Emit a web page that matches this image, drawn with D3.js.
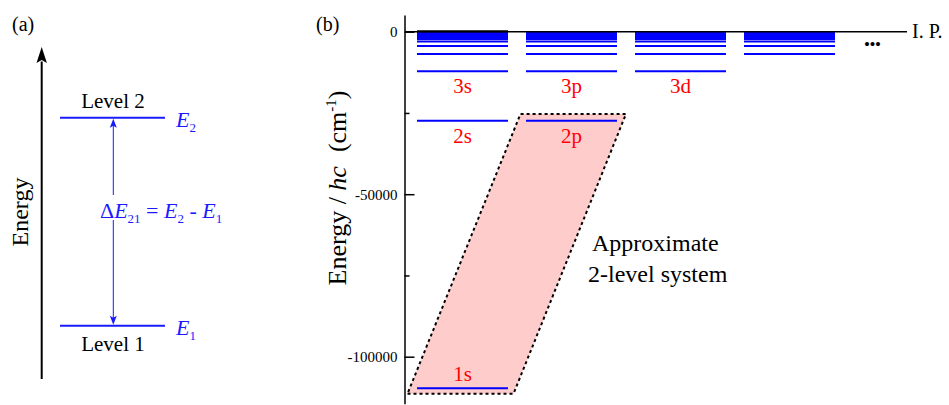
<!doctype html>
<html>
  <head>
    <meta charset="utf-8">
    <script src="https://cdn.jsdelivr.net/npm/d3@7"></script>
    <style>
      body, html {
        margin: 0;
        background: white;
      }
      svg {
        display: block;
      }
      svg text {
        font-family: "Liberation Serif", "DejaVu Serif", serif;
      }
      line.level {
        stroke: #0000ff;
        stroke-width: 2px;
      }
      text.state {
        fill: #ff0000;
        font-size: 21px;
        text-anchor: middle;
      }
      .axis text {
        font-size: 15px;
        fill: black;
      }
      .axis path, .axis line {
        stroke: black;
        stroke-width: 1.5px;
      }
    </style>
  </head>
  <body>
    <svg width="949" height="405"></svg>
    <script>

      // panel (b): hydrogen term energies, cm^-1, principal quantum number n = 1..20
      var levelN = [1, 2, 3, 4, 5, 6, 7, 8, 9, 10, 11, 12, 13, 14, 15, 16, 17, 18, 19, 20];
      var levelEnergy = [-109678, -27420, -12186, -6855, -4387, -3047, -2238, -1714, -1354, -1097,
        -906, -762, -649, -560, -487, -428, -380, -339, -304, -274];
      var columns = ["s", "p", "d", "f"];
      var columnStartN = [1, 2, 3, 4];
      var stateLabels = ["1s", "2s", "3s", "2p", "3p", "3d"];
      var majorTicks = [0, -50000, -100000];
      var minorTicks = [-25000, -75000];
      var boxEnergy = [-25300, -111400];

      // panel (a): schematic two-level system
      var levelsA = ["1", "2"];
      var levelNamesA = ["Level 1", "Level 2"];

      var svg = d3.select("svg")
        .attr("font-family", "Liberation Serif, DejaVu Serif, serif");

      // ---------- panel (a) ----------
      var yA = d3.scaleLinear().domain([1, 2]).range([325.7, 117.7]);
      var a = svg.append("g");

      a.append("text").attr("x", 12).attr("y", 31).style("font-size", "20px").text("(a)");

      a.append("line")
        .attr("x1", 41.7).attr("x2", 41.7)
        .attr("y1", yA(0.744)).attr("y2", yA(2.27))
        .attr("stroke", "black").attr("stroke-width", 2);
      a.append("path")
        .attr("d", "M41.7," + yA(2.34) + " L36.5," + (yA(2.34) + 16) + " L41.7," + (yA(2.34) + 13) + " L46.9," + (yA(2.34) + 16) + "Z")
        .attr("fill", "black");

      a.append("text")
        .attr("transform", "translate(28,212) rotate(-90)")
        .attr("text-anchor", "middle")
        .style("font-size", "24px")
        .text("Energy");

      a.selectAll("line.levelA").data(levelsA).join("line")
        .attr("class", "levelA")
        .attr("x1", 60).attr("x2", 165)
        .attr("y1", (d, i) => yA(i + 1)).attr("y2", (d, i) => yA(i + 1))
        .attr("stroke", "#1a1aff").attr("stroke-width", 2);

      a.selectAll("text.nameA").data(levelNamesA).join("text")
        .attr("class", "nameA")
        .attr("x", 113).attr("text-anchor", "middle")
        .attr("y", (d, i) => i == 0 ? yA(1) + 25 : yA(2) - 10)
        .style("font-size", "21px")
        .text(d => d);

      var eLab = a.selectAll("text.eA").data(levelsA).join("text")
        .attr("class", "eA")
        .attr("x", 176)
        .attr("y", (d, i) => yA(i + 1) + 9)
        .attr("fill", "#1a1aff")
        .style("font-size", "22px");
      eLab.append("tspan").style("font-style", "italic").text("E");
      eLab.append("tspan").attr("dy", 5).style("font-size", "13px").text(d => d);

      // transition arrow with a gap for the formula
      var ax = 113.3;
      a.append("line").attr("x1", ax).attr("x2", ax).attr("y1", yA(2) + 6).attr("y2", 195)
        .attr("stroke", "#1a1aff").attr("stroke-width", 1);
      a.append("line").attr("x1", ax).attr("x2", ax).attr("y1", 220).attr("y2", yA(1) - 6)
        .attr("stroke", "#1a1aff").attr("stroke-width", 1);
      a.append("path")
        .attr("d", "M" + ax + "," + (yA(2) + 1) + " l-3.5,9 l3.5,-2 l3.5,2Z")
        .attr("fill", "#1a1aff");
      a.append("path")
        .attr("d", "M" + ax + "," + (yA(1) - 1) + " l-3.5,-9 l3.5,2 l3.5,-2Z")
        .attr("fill", "#1a1aff");

      var f = a.append("text").attr("x", 100).attr("y", 218)
        .attr("fill", "#1a1aff").style("font-size", "22px");
      f.append("tspan").text("\u0394");
      f.append("tspan").style("font-style", "italic").text("E");
      f.append("tspan").attr("dy", 5).style("font-size", "13px").text("21");
      f.append("tspan").attr("dy", -5).text(" = ");
      f.append("tspan").style("font-style", "italic").text("E");
      f.append("tspan").attr("dy", 5).style("font-size", "13px").text("2");
      f.append("tspan").attr("dy", -5).text(" - ");
      f.append("tspan").style("font-style", "italic").text("E");
      f.append("tspan").attr("dy", 5).style("font-size", "13px").text("1");

      // ---------- panel (b) ----------
      var y = d3.scaleLinear().domain([0, -100000]).range([31.7, 356.7]);
      var x = d3.scaleLinear().domain([0, 4]).range([417, 853]);
      var colW = 91;

      var b = svg.append("g");
      b.append("text").attr("x", 316).attr("y", 31).style("font-size", "20px").text("(b)");

      // shaded 2-level region spanning 1s and 2p
      var box = [
        [x(0) - 9.5, y(boxEnergy[1])],
        [x(0) + colW + 5.5, y(boxEnergy[1])],
        [x(1) + colW + 9, y(boxEnergy[0])],
        [x(1) - 5.5, y(boxEnergy[0])]
      ];
      b.append("path")
        .attr("d", d3.line()(box) + "Z")
        .attr("fill", "#ffcccc")
        .attr("stroke", "black")
        .attr("stroke-width", 2)
        .attr("stroke-dasharray", "3,3");

      // levels
      var levels = [];
      columns.forEach((c, ci) => {
        levelN.forEach((n, ni) => {
          if (n >= columnStartN[ci]) levels.push({ col: ci, n: n, E: levelEnergy[ni] });
        });
      });
      b.selectAll("line.level").data(levels).join("line")
        .attr("class", "level")
        .attr("x1", d => x(d.col)).attr("x2", d => x(d.col) + colW)
        .attr("y1", d => y(d.E)).attr("y2", d => y(d.E));

      // ionisation limit
      b.append("line")
        .attr("x1", 405).attr("x2", 907)
        .attr("y1", y(0)).attr("y2", y(0))
        .attr("stroke", "black").attr("stroke-width", 1.5);
      b.append("line")
        .attr("x1", x(0)).attr("x2", x(0) + colW)
        .attr("y1", y(0) - 0.5).attr("y2", y(0) - 0.5)
        .attr("stroke", "black").attr("stroke-width", 2);
      b.append("text").attr("x", 912).attr("y", 38).style("font-size", "20px").text("I. P.");
      b.append("text").attr("x", 864).attr("y", 50).style("font-size", "17px")
        .style("letter-spacing", "-0.5px").text("\u2022\u2022\u2022");

      // state labels
      b.selectAll("text.state").data(stateLabels).join("text")
        .attr("class", "state")
        .attr("x", d => x(columns.indexOf(d[1])) + colW / 2)
        .attr("y", d => {
          var n = +d[0];
          var E = levelEnergy[levelN.indexOf(n)];
          return n == 1 ? y(E) - 7 : y(E) + 22;
        })
        .text(d => d);

      // y axis
      var yAxisScale = y.copy().domain([5150, -114500]).range([y(5150), y(-114500)]);
      var gy = b.append("g")
        .attr("class", "axis")
        .attr("transform", "translate(404.5,0)")
        .call(d3.axisLeft(yAxisScale).tickValues(majorTicks).tickSizeInner(-10).tickSizeOuter(0)
          .tickPadding(7).tickFormat(d => String(d)));
      gy.attr("font-family", null);
      b.append("g")
        .attr("class", "axis")
        .attr("transform", "translate(404.5,0)")
        .call(d3.axisLeft(yAxisScale).tickValues(minorTicks).tickSizeInner(-5).tickSizeOuter(0).tickFormat(""))
        .select(".domain").remove();

      var yl = b.append("text")
        .attr("transform", "translate(346,188) rotate(-90)")
        .attr("text-anchor", "middle")
        .style("font-size", "26px");
      yl.append("tspan").text("Energy / ");
      yl.append("tspan").style("font-style", "italic").text("hc");
      yl.append("tspan").attr("dx", 14).text("(cm");
      yl.append("tspan").attr("dy", -10).style("font-size", "15px").text("-1");
      yl.append("tspan").attr("dy", 10).text(")");

      // annotation
      var ann = b.append("text").style("font-size", "24px");
      ann.append("tspan").attr("x", 592).attr("y", 251).text("Approximate");
      ann.append("tspan").attr("x", 588).attr("y", 282).text("2-level system");

    </script>
  </body>
</html>
